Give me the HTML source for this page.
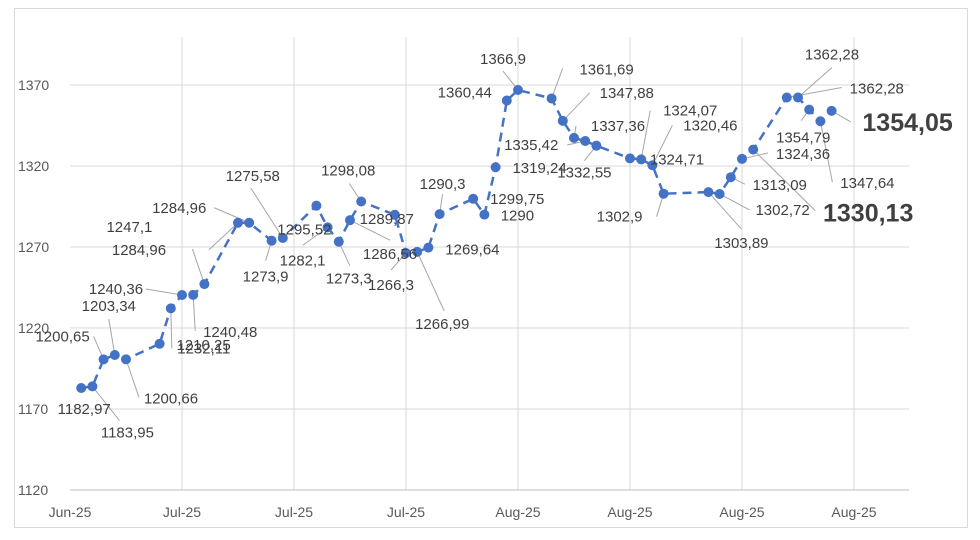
<!DOCTYPE html>
<html><head><meta charset="utf-8"><style>
html,body{margin:0;padding:0;background:#fff;}
svg{display:block;font-family:"Liberation Sans",sans-serif;}
</style></head><body>
<svg id="chart" width="980" height="540" viewBox="0 0 980 540">
<rect x="14.5" y="8.5" width="953" height="519" fill="#fff" stroke="#d9d9d9"/>
<g id="grid"></g><g id="axes"></g><g id="leaders"></g><g id="series"></g><g id="labels"></g>
</svg>
<script>
const days = [1,2,3,4,5, 8,9,10,11,12, 15,16,18,19, 22,23,24,25,26, 29,30,31,32,33, 36,37,38,39,40, 43,44,45,46,47, 50,51,52,53, 57,58,59,60,61, 64,65,66,67,68];
const values = [1182.97,1183.95,1200.65,1203.34,1200.66, 1210.25,1232.11,1240.36,1240.48,1247.1, 1284.96,1284.96,1273.9,1275.58, 1295.52,1282.1,1273.3,1286.56,1298.08, 1289.87,1266.3,1266.99,1269.64,1290.3, 1299.75,1290,1319.24,1360.44,1366.9, 1361.69,1347.88,1337.36,1335.42,1332.55, 1324.71,1324.07,1320.46,1302.9, 1303.89,1302.72,1313.09,1324.36,1330.13, 1362.28,1362.28,1354.79,1347.64,1354.05];
const yTicks = [1120,1170,1220,1270,1320,1370];
const xTickDays = [0,10,20,30,40,50,60,70];
const xTickLabels = ["Jun-25","Jul-25","Jul-25","Jul-25","Aug-25","Aug-25","Aug-25","Aug-25"];
const boldIdx = [42,47];
// label placement offsets (text centre dx,dy and leader end) relative to each point
const labelOff = [[3,21,null],[35,46,[27,34]],[-41,-23,[-10,-23]],[-6,-49,[-6,-36]],[45,39,[13,38]],
[44,1,null],[33,40,[1,40]],[-66,-6,[-36,-6]],[37,37,[2,36]],[-75,-57,[-12,-35]],
[-99,27,[-29,27]],[-70,-15,[-35,-15]],[-6,36,[-6,20]],[-30,-62,[-32,-50]],[-12,24,null],
[-25,33,[-25,18]],[10,37,[11,24]],[40,34,[40,20]],[-13,-31,[-12,-18]],[-8,4,null],
[-15,32,[-15,17]],[25,72,[27,59]],[44,2,null],[3,-30,[3,-20]],[44,0,null],
[33,1,null],[44,1,null],[-42,-8,null],[-15,-31,[-15,-19]],[55,-29,[11,-30]],
[64,-28,[27,-28]],[44,-12,[2,-12]],[-54,4,[-18,4]],[-12,27,[-12,15]],[47,1,null],
[49,-49,[9,-49]],[58,-40,[20,-40]],[-44,23,[-7,23]],[33,51,[33,37]],[63,16,[30,16]],
[49,8,[14,7]],[61,-5,[26,-6]],[115,63,[62,61]],[90,-9,[55,-10]],[34,-43,[34,-30]],
[-6,28,[-8,11]],[47,62,[12,61]],[76,11,[19,11]]];

const X0=70, X1=909, Y0=490, YTOP=37;
const xs = d => X0 + d*11.2;
const ys = v => Y0 - (v-1120)*1.62;
const NS="http://www.w3.org/2000/svg";
function mk(tag, attrs, parent){const e=document.createElementNS(NS,tag);for(const k in attrs)e.setAttribute(k,attrs[k]);parent.appendChild(e);return e;}
const fmt = v => String(v).replace('.',',');
const grid=document.getElementById('grid'), axes=document.getElementById('axes');
yTicks.forEach((t,i)=>{
  if(i>0){const g=mk('line',{x1:X0,x2:X1,y1:ys(t),y2:ys(t),stroke:'#d9d9d9','stroke-width':1},grid);
  
  }
  const tx=mk('text',{x:18,y:ys(t)+5,'font-size':14,fill:'#595959'},axes);tx.textContent=t;
  
  
});
xTickDays.forEach((d,i)=>{
  if(i>0){const g=mk('line',{x1:xs(d),x2:xs(d),y1:YTOP,y2:Y0,stroke:'#d9d9d9','stroke-width':1},grid);
  
  }
  const tx=mk('text',{x:xs(d),y:517,'font-size':14,fill:'#595959','text-anchor':'middle'},axes);tx.textContent=xTickLabels[i];
  
  
});
const ax=mk('line',{x1:X0,x2:X1,y1:Y0,y2:Y0,stroke:'#bfbfbf','stroke-width':1},axes);


const pts=days.map((d,i)=>[xs(d),ys(values[i])]);
const series=document.getElementById('series');
const line=mk('polyline',{points:pts.map(p=>p.join(',')).join(' '),fill:'none',stroke:'#4472C4','stroke-width':2.5,'stroke-dasharray':'9,6','stroke-linejoin':'round'},series);


pts.forEach(p=>{
  const c=mk('circle',{cx:p[0],cy:p[1],r:5,fill:'#4472C4'},series);
  
  
});
const leaders=document.getElementById('leaders'), labels=document.getElementById('labels');
pts.forEach((p,i)=>{
  const o=labelOff[i]; const bold=boldIdx.includes(i);
  if(o[2]){const l=mk('line',{x1:p[0],y1:p[1],x2:p[0]+o[2][0],y2:p[1]+o[2][1],stroke:'#a6a6a6','stroke-width':1},leaders);
  
  }
  const t=mk('text',{x:p[0]+o[0],y:p[1]+o[1]+(bold?9:5),'font-size':bold?25:15,'font-weight':bold?'bold':'normal',fill:'#404040','text-anchor':'middle'},labels);
  t.textContent=fmt(values[i]);
  
  
});
</script>
</body></html>
